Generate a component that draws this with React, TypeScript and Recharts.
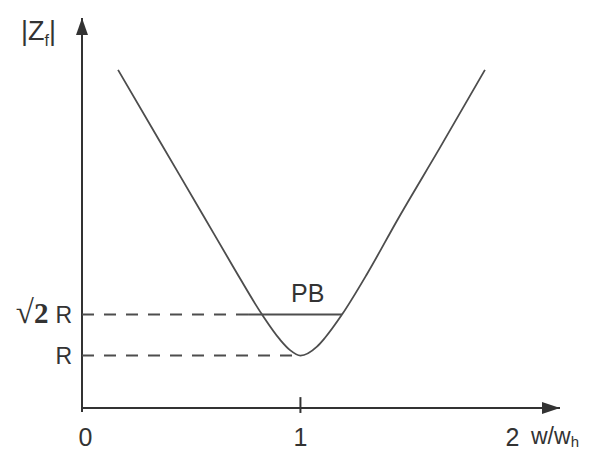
import React from 'react';
import { LineChart, Line, XAxis, YAxis, ReferenceLine, ReferenceDot } from 'recharts';

// normalised frequency w/wh and impedance magnitude |Zf| (in units of R)
const freqRatio = [0.14, 0.338, 0.541, 0.682, 0.819, 0.904, 0.951, 1.0, 1.078, 1.116, 1.196, 1.314, 1.46, 1.658, 1.87];
const impedance = [3.886, 3.16, 2.418, 1.9, 1.414, 1.16, 1.055, 1.0, 1.09, 1.18, 1.414, 1.824, 2.38, 3.1, 3.886];

const xTicks = [0, 1, 2];
const yTicks = [1, 1.414];
const passbandEdges = [0.753, 1.196];

const X_DOMAIN: [number, number] = [-0.03, 2.224];
const Y_DOMAIN: [number, number] = [0.47, 4.41];

const data = freqRatio.map((f, i) => ({ f, z: impedance[i] }));

const INK = '#333';
const LINE = '#4d4d4d';
const SANS = '"Liberation Sans", Arial, sans-serif';
const SERIF = '"Liberation Serif", "Times New Roman", serif';

const XTick = ({ x, y, payload }: any) => (
  <text x={x - (payload.value === 0 ? 3 : 0)} y={y + 38} textAnchor="middle" fontSize={25} fill={INK} fontFamily={SANS}>
    {payload.value}
  </text>
);

const YTick = ({ y, payload }: any) => {
  if (payload.value === 1) {
    return (
      <text x={72} y={y + 8} textAnchor="end" fontSize={23} fill={INK} fontFamily={SANS}>R</text>
    );
  }
  return (
    <text x={72} y={y + 8} textAnchor="end" fontSize={23} fill={INK} fontFamily={SANS}>
      <tspan fontFamily={SERIF} fontSize={33}>√</tspan>
      <tspan fontFamily={SERIF} fontWeight="bold" fontSize={29}>2</tspan>
      <tspan dx={7}>R</tspan>
    </text>
  );
};

const ArrowRight = ({ cx, cy }: any) => (
  <polygon points={`${cx},${cy} ${cx - 18},${cy - 6} ${cx - 18},${cy + 6}`} fill={INK} />
);

const ArrowUp = ({ cx, cy }: any) => (
  <polygon points={`${cx},${cy} ${cx - 6},${cy + 17} ${cx + 6},${cy + 17}`} fill={INK} />
);

const ZLabel = ({ cx, cy }: any) => (
  <text x={cx - 61} y={cy + 22} fontSize={27} fill={INK} fontFamily={SANS}>
    |Z<tspan fontSize={16} dy={6}>f</tspan><tspan dy={-6}>|</tspan>
  </text>
);

const WLabel = ({ cx, cy }: any) => (
  <text x={cx - 29} y={cy + 36} fontSize={23} fill={INK} fontFamily={SANS}>
    w/w<tspan fontSize={15} dy={3}>h</tspan>
  </text>
);

const PbLabel = ({ cx, cy }: any) => (
  <text x={cx} y={cy - 13} textAnchor="middle" fontSize={25} fill={INK} fontFamily={SANS}>PB</text>
);

export default function App() {
  return (
    <div style={{ position: 'fixed', left: 0, top: 0, width: 605, height: 452, background: '#fff' }}>
      <LineChart width={605} height={452} data={data} margin={{ top: 18, right: 45, bottom: 0, left: 0 }}>
        <XAxis
          dataKey="f"
          type="number"
          domain={X_DOMAIN}
          allowDataOverflow
          ticks={xTicks}
          axisLine={false}
          tickLine={false}
          tickSize={0}
          tickMargin={0}
          height={44}
          tick={<XTick />}
        />
        <YAxis
          type="number"
          domain={Y_DOMAIN}
          allowDataOverflow
          ticks={yTicks}
          axisLine={false}
          tickLine={false}
          width={82}
          tick={<YTick />}
        />

        {/* axes drawn as plain lines with arrow heads */}
        <ReferenceLine y={Y_DOMAIN[0]} stroke={INK} strokeWidth={2} ifOverflow="visible" />
        <ReferenceLine
          segment={[{ x: X_DOMAIN[0], y: 0.43 }, { x: X_DOMAIN[0], y: Y_DOMAIN[1] }]}
          stroke={INK}
          strokeWidth={2}
          ifOverflow="visible"
        />
        <ReferenceLine
          segment={[{ x: 1, y: 0.58 }, { x: 1, y: 0.42 }]}
          stroke={INK}
          strokeWidth={2}
          ifOverflow="visible"
        />
        <ReferenceDot x={X_DOMAIN[1]} y={Y_DOMAIN[0]} shape={<ArrowRight />} ifOverflow="visible" />
        <ReferenceDot x={X_DOMAIN[0]} y={Y_DOMAIN[1]} shape={<ArrowUp />} ifOverflow="visible" />
        <ReferenceDot x={X_DOMAIN[0]} y={Y_DOMAIN[1]} shape={<ZLabel />} ifOverflow="visible" />
        <ReferenceDot x={X_DOMAIN[1]} y={Y_DOMAIN[0]} shape={<WLabel />} ifOverflow="visible" />

        {/* dashed guides to R and sqrt(2)R */}
        <ReferenceLine
          segment={[{ x: X_DOMAIN[0], y: 1 }, { x: 1, y: 1 }]}
          stroke={LINE}
          strokeWidth={2}
          strokeDasharray="12 10"
        />
        <ReferenceLine
          segment={[{ x: X_DOMAIN[0], y: 1.414 }, { x: passbandEdges[0], y: 1.414 }]}
          stroke={LINE}
          strokeWidth={2}
          strokeDasharray="12 10"
        />
        <ReferenceLine
          segment={[{ x: passbandEdges[0], y: 1.414 }, { x: passbandEdges[1], y: 1.414 }]}
          stroke={LINE}
          strokeWidth={2}
        />
        <ReferenceDot x={(passbandEdges[0] + passbandEdges[1]) / 2 + 0.06} y={1.414} shape={<PbLabel />} />

        <Line
          type="monotone"
          dataKey="z"
          stroke={LINE}
          strokeWidth={1.8}
          dot={false}
          isAnimationActive={false}
        />
      </LineChart>
    </div>
  );
}
